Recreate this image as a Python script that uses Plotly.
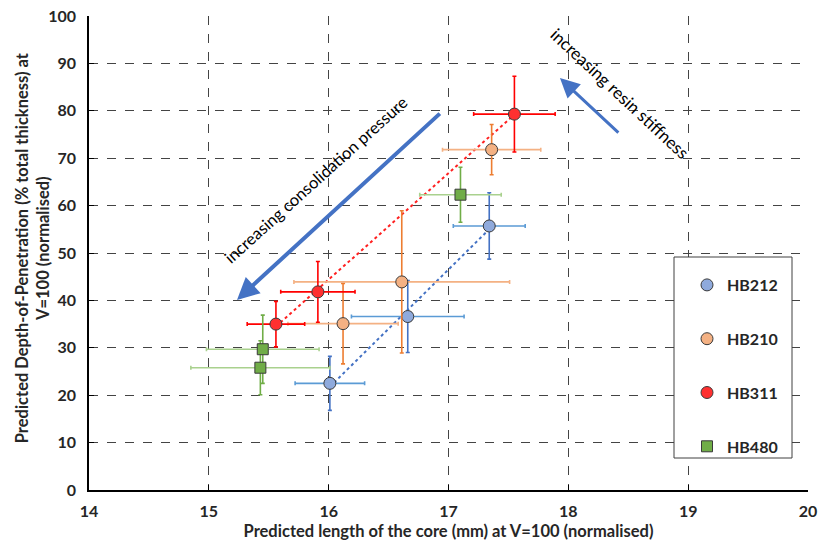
import numpy as np
import plotly.graph_objects as go

# ---- data ----
series_names = ["HB212", "HB210", "HB311", "HB480"]

hb212_x = [16.01, 16.66, 17.34]
hb212_y = [22.5, 36.6, 55.7]
hb212_xerr = [0.29, 0.47, 0.30]
hb212_yerr = [5.7, 7.6, 7.0]

hb210_x = [16.12, 16.61, 17.36]
hb210_y = [35.1, 43.9, 71.8]
hb210_xerr = [0.46, 0.90, 0.41]
hb210_yerr = [8.5, 15.0, 5.3]

hb311_x = [15.56, 15.91, 17.55]
hb311_y = [35.0, 41.8, 79.3]
hb311_xerr = [0.24, 0.31, 0.34]
hb311_yerr = [4.8, 6.4, 8.0]

hb480_x = [15.45, 15.43, 17.10]
hb480_y = [29.7, 25.8, 62.3]
hb480_xerr = [0.47, 0.58, 0.34]
hb480_yerr = [7.2, 5.7, 5.8]

x_ticks = [14, 15, 16, 17, 18, 19, 20]
y_ticks = [0, 10, 20, 30, 40, 50, 60, 70, 80, 90, 100]

FONT = "Lato"
fig = go.Figure()

def add_series(name, xs, ys, xe, ye, fill, hcol, vcol, symbol, size):
    fig.add_trace(go.Scatter(
        x=xs, y=ys, mode="markers", name=name, legendgroup=name,
        marker=dict(color=fill, size=size, symbol=symbol,
                    line=dict(color="#3a3a3a", width=1)),
        error_x=dict(type="data", array=xe, visible=True, color=hcol,
                     thickness=1.6, width=2),
        error_y=dict(type="data", array=ye, visible=True, color=vcol,
                     thickness=1.6, width=2),
    ))

def add_trend(xs, ys, color):
    k, b = np.polyfit(xs, ys, 1)
    xx = np.array([min(xs), max(xs)])
    fig.add_trace(go.Scatter(x=xx, y=k * xx + b, mode="lines",
                             line=dict(color=color, width=2, dash="dot"),
                             showlegend=False, hoverinfo="skip"))

add_trend(hb212_x, hb212_y, "#4472C4")
add_trend(hb311_x, hb311_y, "#FF2020")

add_series("HB212", hb212_x, hb212_y, hb212_xerr, hb212_yerr,
           "#8FAADC", "#5B9BD5", "#4472C4", "circle", 12)
add_series("HB210", hb210_x, hb210_y, hb210_xerr, hb210_yerr,
           "#F4B183", "#F4B183", "#ED7D31", "circle", 12)
add_series("HB311", hb311_x, hb311_y, hb311_xerr, hb311_yerr,
           "#FF3030", "#FF0000", "#FF0000", "circle", 12)
add_series("HB480", hb480_x, hb480_y, hb480_xerr, hb480_yerr,
           "#70AD47", "#A9D18E", "#70AD47", "square", 11)

axis_common = dict(
    showgrid=True, gridcolor="#444444", griddash="dash", gridwidth=1,
    showline=True, linecolor="black", linewidth=1.5,
    ticks="inside", ticklen=5, tickcolor="black",
    zeroline=False, automargin=False,
    tickfont=dict(family=FONT, size=16, color="#262626", weight="bold"),
)

fig.update_xaxes(range=[14, 20], tickvals=x_ticks, **axis_common,
                 title=dict(text="Predicted length of the core (mm) at V=100 (normalised)",
                            font=dict(family=FONT, size=16.5, color="#262626", weight="bold"),
                            standoff=6),
                 ticklabelstandoff=6)
fig.update_yaxes(range=[0, 100], tickvals=y_ticks, **axis_common,
                 ticklabelstandoff=8)

# y-axis title (two lines)
fig.add_annotation(xref="paper", yref="paper", x=0, y=0.51, xshift=-57,
                   xanchor="center", yanchor="middle", showarrow=False, textangle=-90,
                   text="Predicted Depth-of-Penetration (% total thickness) at<br>V=100 (normalised)",
                   font=dict(family=FONT, size=16.5, color="#262626", weight="bold"))

# arrows & labels
arrow_col = "#4472C4"
fig.add_annotation(x=15.235, y=40.1, ax=16.94, ay=79.7, xref="x", yref="y",
                   axref="x", ayref="y", showarrow=True, arrowhead=2,
                   arrowsize=1.1, arrowwidth=4, arrowcolor=arrow_col, text="")
fig.add_annotation(x=17.93, y=86.9, ax=18.43, ay=75.1, xref="x", yref="y",
                   axref="x", ayref="y", showarrow=True, arrowhead=2,
                   arrowsize=1.3, arrowwidth=3, arrowcolor=arrow_col, text="")
fig.add_annotation(x=15.89, y=65.5, xref="x", yref="y", showarrow=False,
                   text="increasing consolidation pressure", textangle=-42,
                   font=dict(family=FONT, size=16.5, color="black"))
fig.add_annotation(x=18.43, y=83.6, xref="x", yref="y", showarrow=False,
                   text="increasing resin stiffness", textangle=43,
                   font=dict(family=FONT, size=17, color="black"))

# legend box
fig.add_shape(type="rect", xref="paper", yref="paper",
              x0=(674 - 89) / 719, x1=(792 - 89) / 719,
              y0=(490 - 458) / 474, y1=(490 - 257) / 474,
              line=dict(color="#404040", width=1), fillcolor="white", layer="above")

fig.update_layout(
    width=820, height=547,
    margin=dict(l=89, r=12, t=16, b=57),
    plot_bgcolor="white", paper_bgcolor="white",
    showlegend=True,
    legend=dict(x=(687 - 89) / 719, y=(490 - 268) / 474, xanchor="left", yanchor="top",
                bgcolor="rgba(0,0,0,0)", borderwidth=0, tracegroupgap=30,
                font=dict(family=FONT, size=16, color="#262626", weight="bold"),
                itemwidth=30),
)

fig.write_html("out.html")
